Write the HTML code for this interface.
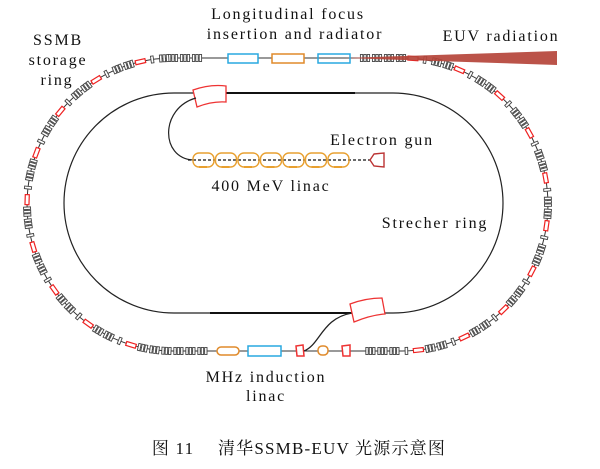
<!DOCTYPE html>
<html><head><meta charset="utf-8"><style>
html,body{margin:0;padding:0;background:#fff;width:600px;height:469px;overflow:hidden}
svg{display:block}
text{font-family:"Liberation Serif","Noto Serif CJK SC",serif;fill:#111;font-size:16px;letter-spacing:1.8px}
</style></head><body>
<svg id="s" width="600" height="469" viewBox="0 0 600 469" xmlns="http://www.w3.org/2000/svg">
<path id="outer" d="M173,58 L402,58 A146,146.5 0 0 1 402,351 L173,351 A146,146.5 0 0 1 173,58 Z" fill="none" stroke="#333" stroke-width="1"/>
<path d="M174,93 L393,93 A110,110 0 0 1 393,313 L174,313 A110,110 0 0 1 174,93 Z" fill="none" stroke="#222" stroke-width="1.2"/>
<line x1="226" y1="93" x2="355" y2="93" stroke="#111" stroke-width="2"/>
<line x1="210" y1="313" x2="352" y2="313" stroke="#111" stroke-width="2"/>
<g id="elems"></g>
<polygon points="345,58 557,51 557,65" fill="#b5443a" opacity="0.92"/>
<g stroke-width="1.5" fill="#fff">
<rect x="228" y="54" width="30" height="9" stroke="#29a8e0"/>
<rect x="272" y="54" width="32" height="9" stroke="#e08a2a"/>
<rect x="318" y="54" width="32" height="9" stroke="#29a8e0" fill="none"/>
</g>
<g stroke-width="1.5" fill="#fff">
<rect x="217" y="347" width="22" height="8" rx="4" stroke="#e08a2a"/>
<rect x="248" y="346" width="33" height="10" stroke="#29a8e0"/>
<polygon points="296,346 303,345 304,356 297,356" stroke="#e33"/>
<rect x="318" y="346" width="10" height="9" rx="4" stroke="#e08a2a"/>
<polygon points="342,346 350,345 350,356 343,356" stroke="#e33"/>
</g>
<path d="M304,351 C320,345 322,318 352,313" fill="none" stroke="#222" stroke-width="1.3"/>
<path d="M193,90 Q210,84 226,86 L226,102 Q212,101 197,107 Z" fill="#fff" stroke="#e33" stroke-width="1.3"/>
<path d="M350,304 Q366,298 382,298 L385,314 Q371,315 354,322 Z" fill="#fff" stroke="#e33" stroke-width="1.3"/>
<path d="M196,98 C160,108 160,158 193,160" fill="none" stroke="#222" stroke-width="1.2"/>
<line x1="188" y1="160" x2="375" y2="160" stroke="#111" stroke-width="1.2" stroke-dasharray="3,2"/>
<g id="cav" fill="none" stroke="#e8a030" stroke-width="1.4"></g>
<path d="M374,154 L384,153 L384,167 L374,166 L370,160 Z" fill="#fff" stroke="#b33" stroke-width="1.4"/>
<text x="288" y="19" text-anchor="middle">Longitudinal focus</text>
<text x="295" y="39" text-anchor="middle">insertion and radiator</text>
<text x="58" y="45" text-anchor="middle">SSMB</text>
<text x="58" y="65" text-anchor="middle">storage</text>
<text x="57" y="85" text-anchor="middle">ring</text>
<text x="501" y="41" text-anchor="middle">EUV radiation</text>
<text x="382" y="145" text-anchor="middle">Electron gun</text>
<text x="271" y="191" text-anchor="middle">400 MeV linac</text>
<text x="435" y="228" text-anchor="middle">Strecher ring</text>
<text x="266" y="382" text-anchor="middle">MHz induction</text>
<text x="266" y="401" text-anchor="middle">linac</text>
<text x="299" y="454" text-anchor="middle" style="font-size:17px;letter-spacing:1.2px">图 11　 清华SSMB-EUV 光源示意图</text>
</svg>
<script>
(function(){
var NS="http://www.w3.org/2000/svg";
var cav=document.getElementById('cav');
for(var i=0;i<7;i++){var r=document.createElementNS(NS,'rect');
r.setAttribute('x',193+i*22.5);r.setAttribute('y',153);r.setAttribute('width',21);r.setAttribute('height',14);r.setAttribute('rx',6);cav.appendChild(r);
var b=document.createElementNS(NS,'rect');b.setAttribute('x',199+i*22.5);b.setAttribute('y',166);b.setAttribute('width',8);b.setAttribute('height',2);b.setAttribute('fill','#e8a030');b.setAttribute('stroke','none');cav.appendChild(b);}
var p=document.getElementById('outer'),g=document.getElementById('elems');
var L=p.getTotalLength();
var q='fill="#fff" stroke="#444" stroke-width="0.9"';
function add(s,kind){
 var a=p.getPointAtLength(s),b=p.getPointAtLength(s+0.5);
 var ang=Math.atan2(b.y-a.y,b.x-a.x)*180/Math.PI;
 var e=document.createElementNS(NS,'g');
 e.setAttribute('transform','translate('+a.x+','+a.y+') rotate('+ang+')');
 if(kind==0){e.innerHTML='<rect x="-5" y="-2" width="10" height="4" fill="#fff" stroke="#e22" stroke-width="1.2"/>';}
 else if(kind==1){e.innerHTML='<rect x="-1.3" y="-3.5" width="2.6" height="7" '+q+'/>';}
 else {e.innerHTML='<rect x="-4.6" y="-3.5" width="2.4" height="7" '+q+'/><rect x="-1.2" y="-3.5" width="2.4" height="7" '+q+'/><rect x="2.2" y="-3.5" width="2.4" height="7" '+q+'/>';}
 g.appendChild(e);
}
var pat=[0,1,2,2,0,1,2,2];
var k=0;
for(var s=0;s<L;s+=12){
 var a=p.getPointAtLength(s);
 if(a.x>208&&a.x<362)continue;
 if(a.x>=165&&a.x<=208||a.x>=362&&a.x<=405){add(s,2);continue;}
 add(s,pat[k%pat.length]);k++;
}
})();
</script>
</body></html>
